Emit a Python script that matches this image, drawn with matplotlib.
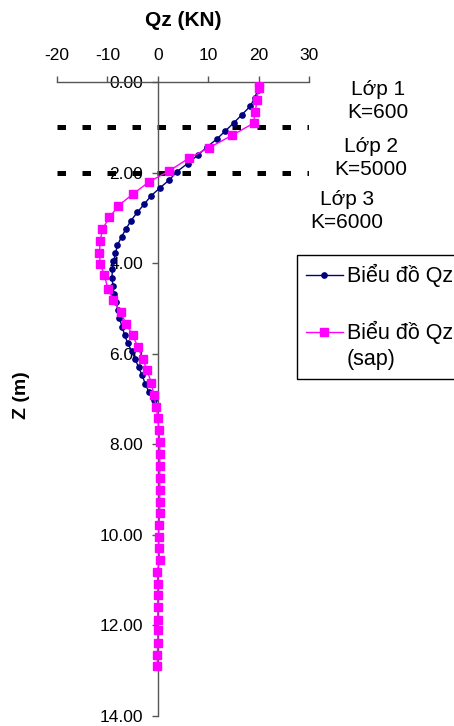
import matplotlib
matplotlib.use('Agg')
import matplotlib.pyplot as plt

plt.rcParams['font.family'] = ['Liberation Sans', 'DejaVu Sans']
plt.rcParams['axes.unicode_minus'] = False

# ---- data ----
# series 1: Qz along the pile (KN) vs depth z (m)
z_qz = [0.00, 0.18, 0.36, 0.54, 0.72, 0.90, 1.08, 1.26, 1.44, 1.62,
        1.80, 1.98, 2.16, 2.34, 2.52, 2.70, 2.88, 3.06, 3.24, 3.42,
        3.60, 3.78, 3.96, 4.14, 4.32, 4.50, 4.68, 4.86, 5.04, 5.22,
        5.40, 5.58, 5.76, 5.94, 6.12, 6.30, 6.48, 6.66, 6.84, 7.02]
qz = [20.0, 19.8, 19.2, 18.3, 16.7, 15.1, 13.4, 11.7, 9.7, 7.9,
      5.9, 3.8, 2.3, 0.4, -1.4, -2.7, -4.1, -5.3, -6.3, -7.2,
      -8.0, -8.4, -8.8, -9.0, -9.1, -8.9, -8.7, -8.3, -7.9, -7.6,
      -7.1, -6.6, -6.0, -5.2, -4.5, -3.8, -3.1, -2.5, -1.8, -0.8]

# series 2: Qz from SAP
z_sap = [0.00, 0.14, 0.40, 0.67, 0.91, 1.18, 1.45, 1.68, 1.96, 2.21,
         2.48, 2.73, 2.99, 3.25, 3.51, 3.78, 4.02, 4.27, 4.57, 4.81,
         5.08, 5.34, 5.59, 5.86, 6.12, 6.37, 6.64, 6.91, 7.17, 7.43,
         7.68, 7.96, 8.21, 8.48, 8.75, 9.00, 9.27, 9.52, 9.78, 10.04,
         10.29, 10.55, 10.82, 11.08, 11.32, 11.60, 11.88, 12.10, 12.38, 12.65,
         12.89]
qz_sap = [20.0, 20.0, 19.7, 19.3, 19.0, 14.7, 10.2, 6.2, 2.3, -1.8,
          -5.0, -7.8, -9.6, -11.0, -11.4, -11.6, -11.4, -10.6, -9.9, -8.8,
          -7.4, -6.3, -5.0, -3.9, -3.0, -2.1, -1.3, -0.8, -0.3, 0.0,
          0.2, 0.4, 0.4, 0.4, 0.4, 0.4, 0.4, 0.4, 0.2, 0.2,
          0.2, 0.35, -0.1, 0.0, 0.0, 0.0, 0.0, 0.0, 0.0, -0.1,
          -0.1]

layer_z = [1.0, 2.0]
layer_text = ['Lớp 1\nK=600', 'Lớp 2\nK=5000', 'Lớp 3\nK=6000']
x_ticks = [-20, -10, 0, 10, 20, 30]
z_ticks = [0, 2, 4, 6, 8, 10, 12, 14]

W, H = 454, 726
fig = plt.figure(figsize=(W / 100, H / 100), dpi=100)
ax = fig.add_axes([57 / W, 10 / H, 252 / W, 634 / H])

# layer boundaries
ax.hlines(layer_z, x_ticks[0], x_ticks[-1], colors='black',
          linestyles=(0, (1.7, 3.3)), linewidth=3.6, zorder=1)

ax.plot(qz, z_qz, color='#000080', marker='o', markersize=3.8,
        linewidth=1, label='Biểu đồ Qz', zorder=3)
ax.plot(qz_sap, z_sap, color='#FF00FF', marker='s', markersize=6,
        linewidth=1, label='Biểu đồ Qz\n(sap)', zorder=4)

ax.set_xlim(x_ticks[0], x_ticks[-1])
ax.set_ylim(z_ticks[-1], z_ticks[0])

# axes: x on top (z=0), y spine through x=0
ax.spines['bottom'].set_visible(False)
ax.spines['right'].set_visible(False)
ax.spines['left'].set_position(('data', 0))
for s in ['top', 'left']:
    ax.spines[s].set_color('#555555')
    ax.spines[s].set_linewidth(1)
ax.xaxis.tick_top()
ax.set_xticks(x_ticks)
ax.set_yticks(z_ticks)
ax.set_yticklabels(['%.2f' % v for v in z_ticks])
ax.tick_params(axis='x', direction='out', length=4, width=1, pad=10,
               labelsize=12.5, color='#555555')
ax.tick_params(axis='y', direction='out', length=4, width=1, pad=6.5,
               labelsize=12.5, color='#555555')

ax.set_xlabel('Qz (KN)', fontsize=15, fontweight='bold')
ax.xaxis.set_label_position('top')
ax.xaxis.set_label_coords(0.5, 1 + 61 / 634)
ax.xaxis.label.set_va('center')
ax.set_ylabel('Z (m)', fontsize=14, fontweight='bold')
ax.yaxis.set_label_coords(-35 / 252, 0.506)
ax.yaxis.label.set_va('center')

# layer notes
for txt, (px, py) in zip(layer_text, [(378, 101), (371, 158), (347, 211)]):
    fig.text(px / W, 1 - py / H, txt, fontsize=15, ha='center', va='center',
             linespacing=1.3, multialignment='center')

leg = ax.legend(loc='upper left', bbox_to_anchor=(297 / W, 1 - 255 / H),
                bbox_transform=fig.transFigure, fontsize=15.5, frameon=True,
                fancybox=False, edgecolor='black', framealpha=1,
                borderpad=0.42, handlelength=1.7, handletextpad=0.2,
                labelspacing=1.55, borderaxespad=0)
leg.get_frame().set_linewidth(1)
leg.get_texts()[1].set_linespacing(1.35)
h = leg.legend_handles[1]
h.set_ydata([y + 10 for y in h.get_ydata()])

fig.savefig('out.png', dpi=100)
